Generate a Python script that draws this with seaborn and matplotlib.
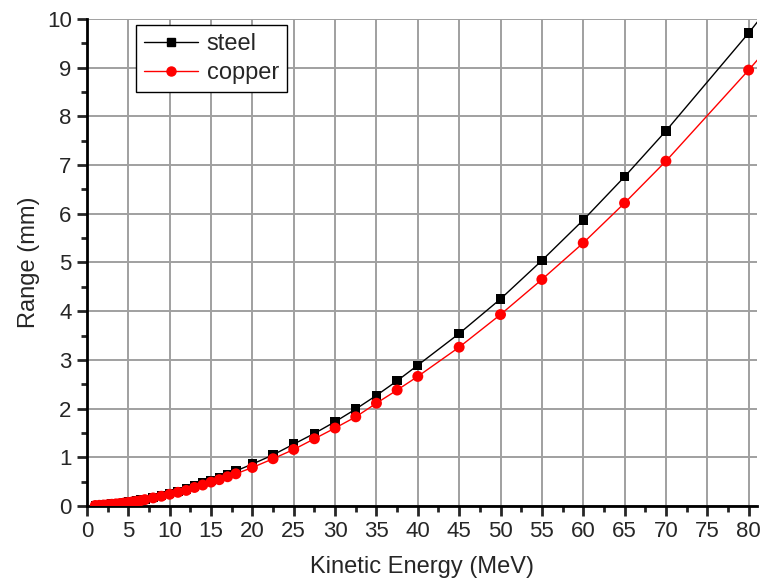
import numpy as np
import pandas as pd
import seaborn as sns
import matplotlib.pyplot as plt
from matplotlib.lines import Line2D
from matplotlib.ticker import MultipleLocator

# data
energy = [1, 1.5, 2, 2.5, 3, 3.5, 4, 4.5, 5, 5.5, 6, 6.5, 7, 8, 9, 10, 11, 12, 13, 14,
          15, 16, 17, 18, 20, 22.5, 25, 27.5, 30, 32.5, 35, 37.5, 40, 45, 50, 55, 60, 65, 70, 80]
steel = [0.011, 0.016, 0.022, 0.029, 0.038, 0.047, 0.056, 0.067, 0.079, 0.092, 0.105, 0.12,
         0.14, 0.18, 0.22, 0.26, 0.30, 0.35, 0.41, 0.47, 0.53, 0.59, 0.65, 0.72, 0.86, 1.05,
         1.27, 1.49, 1.73, 1.99, 2.27, 2.57, 2.89, 3.54, 4.25, 5.04, 5.87, 6.76, 7.70, 9.71]
copper = [0.010, 0.014, 0.020, 0.027, 0.035, 0.043, 0.052, 0.062, 0.073, 0.085, 0.097, 0.11,
          0.13, 0.165, 0.20, 0.24, 0.28, 0.32, 0.38, 0.43, 0.49, 0.54, 0.60, 0.66, 0.79, 0.97,
          1.16, 1.38, 1.60, 1.83, 2.11, 2.38, 2.66, 3.26, 3.93, 4.65, 5.40, 6.22, 7.08, 8.95]
# the connecting curves run on past the last point to the frame edge
line_end_energy = 82
steel_end = 10.14
copper_end = 9.34

x_ticks = list(range(0, 81, 5))
y_ticks = list(range(0, 11))

pts = pd.concat([
    pd.DataFrame({'energy': energy, 'range': steel, 'material': 'steel'}),
    pd.DataFrame({'energy': energy, 'range': copper, 'material': 'copper'}),
])
lines = pd.concat([
    pd.DataFrame({'energy': energy + [line_end_energy], 'range': steel + [steel_end], 'material': 'steel'}),
    pd.DataFrame({'energy': energy + [line_end_energy], 'range': copper + [copper_end], 'material': 'copper'}),
])

sns.set_style('white')
plt.rcParams['font.family'] = ['Liberation Sans', 'DejaVu Sans']
colors = {'steel': 'black', 'copper': '#ff0000'}

fig = plt.figure(figsize=(7.63, 5.84), dpi=100)
ax = fig.add_axes([0.114, 0.1336, 0.878, 0.834])

sns.lineplot(data=lines, x='energy', y='range', hue='material', palette=colors,
             linewidth=1, legend=False, ax=ax, sort=False, zorder=3)
sns.scatterplot(data=pts[pts.material == 'steel'], x='energy', y='range', color='black',
                marker='s', s=45, edgecolor='none', legend=False, ax=ax, zorder=4)
sns.scatterplot(data=pts[pts.material == 'copper'], x='energy', y='range', color='#ff0000',
                marker='o', s=62, edgecolor='none', legend=False, ax=ax, zorder=5)

ax.set_xlim(0, 81)
ax.set_ylim(0, 10)
ax.set_xticks(x_ticks)
ax.set_yticks(y_ticks)
ax.xaxis.set_minor_locator(MultipleLocator(2.5))
ax.yaxis.set_minor_locator(MultipleLocator(0.5))
ax.grid(True, which='major', color='#a0a0a0', linewidth=1.4)
ax.set_axisbelow(True)

for s in ['top', 'right']:
    ax.spines[s].set_visible(False)
for s in ['left', 'bottom']:
    ax.spines[s].set_linewidth(2)
    ax.spines[s].set_color('black')
ax.tick_params(which='major', direction='out', length=7, width=2, labelsize=16,
               bottom=True, left=True, pad=4)
ax.tick_params(which='minor', direction='out', length=4, width=2, bottom=True, left=True)

ax.set_xlabel('Kinetic Energy (MeV)', fontsize=17, labelpad=10)
ax.set_ylabel('Range (mm)', fontsize=17, labelpad=5)

handles = [Line2D([], [], color='black', marker='s', markersize=5.5, lw=1),
           Line2D([], [], color='#ff0000', marker='o', markersize=6.5, lw=1)]
leg = ax.legend(handles, ['steel', 'copper'], loc='upper left', bbox_to_anchor=(0.073, 0.988),
                fontsize=17, frameon=True, fancybox=False, handlelength=2.3,
                borderpad=0.35, labelspacing=0.3, handletextpad=0.35, borderaxespad=0.0)
leg.get_frame().set_edgecolor('black')
leg.get_frame().set_linewidth(1)
leg.get_frame().set_alpha(1)

fig.savefig('out.png', dpi=100)
